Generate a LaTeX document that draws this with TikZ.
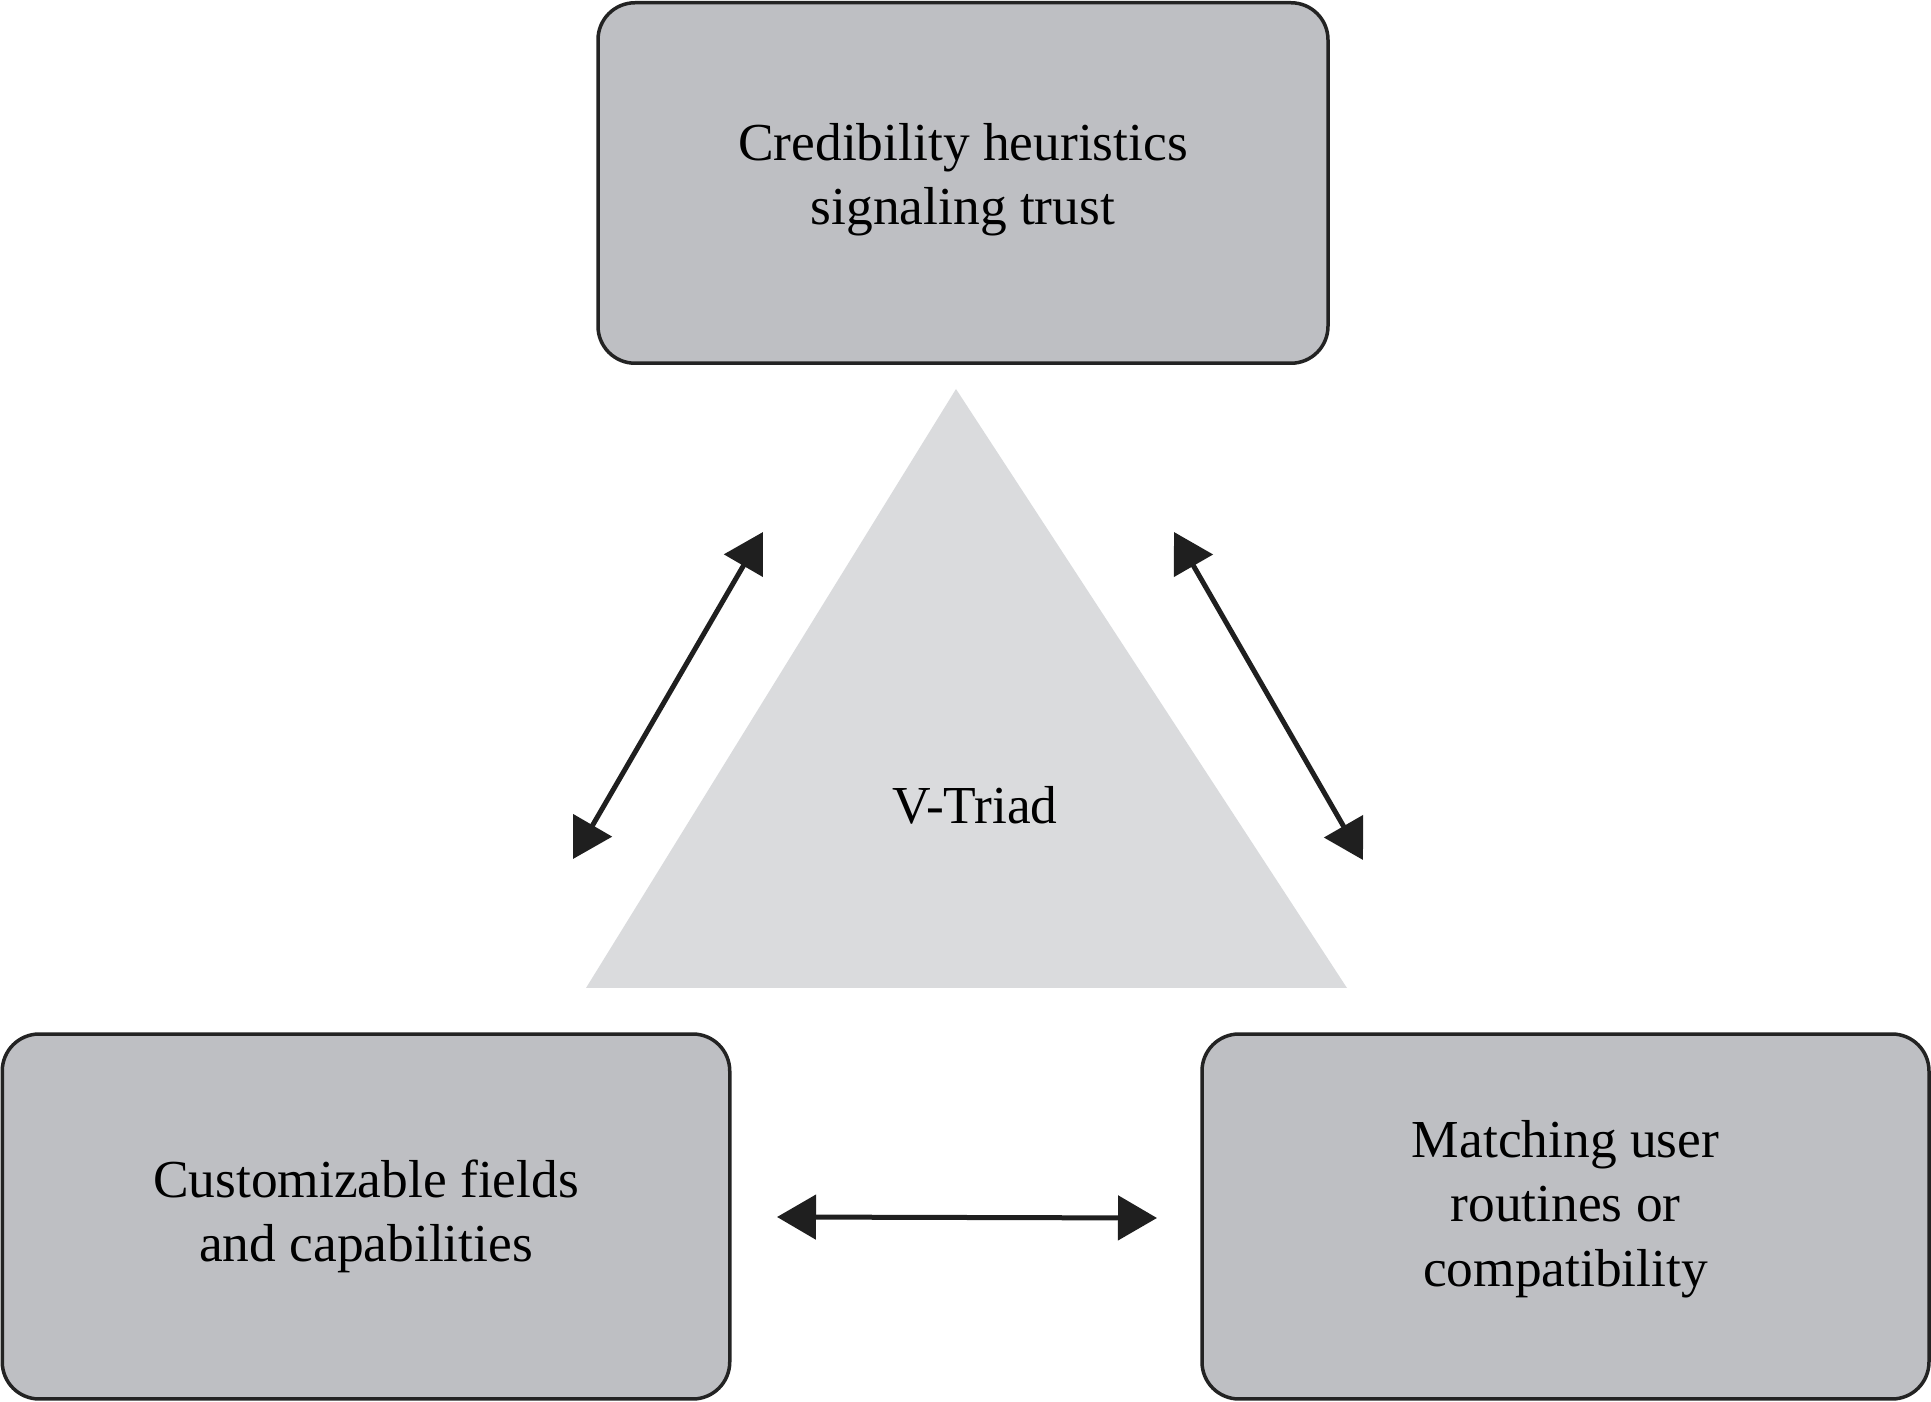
\documentclass[tikz,border=0pt]{standalone}
\usepackage{fontspec}
\setmainfont{Liberation Serif}
\usetikzlibrary{arrows.meta}
\definecolor{boxfill}{RGB}{190,191,195}
\definecolor{trifill}{RGB}{218,219,221}
\definecolor{edgecol}{RGB}{35,35,35}
\begin{document}
\begin{tikzpicture}[x=0.1mm,y=-0.1mm,
  box/.style={draw=edgecol, line width=0.35mm, fill=boxfill, rounded corners=3.7mm,
    align=center, inner sep=0pt, font=\fontsize{15.2}{18.3}\selectfont},
  link/.style={line width=0.5mm, draw=black!88,
    {Triangle[length=3.9mm,width=4.4mm]}-{Triangle[length=3.9mm,width=4.4mm]}}]
\useasboundingbox (0,0) rectangle (1931,1402);
% triangle
\fill[trifill] (956,389) -- (1347,988) -- (586,988) -- cycle;
\node[font=\fontsize{15.2}{18.3}\selectfont] (triad) at (975,805) {V-Triad};
% boxes
\node[box, minimum width=73mm, minimum height=36.05mm] (top) at (963,183) {};
\node[font=\fontsize{15.2}{18.3}\selectfont, align=center] (toptext) at (963,180)
  {Credibility heuristics\\signaling trust};
\node[box, minimum width=72.75mm, minimum height=36.5mm] (left) at (366,1216.5)
  {Customizable fields\\and capabilities};
\node[box, minimum width=72.7mm, minimum height=36.5mm] (right) at (1565.5,1216.5) {};
\node[font=\fontsize{15.2}{18.3}\selectfont, align=center] (righttext) at (1565.5,1209)
  {Matching user\\routines or\\compatibility};
% arrow end points
\coordinate (la) at (763,532);
\coordinate (lb) at (573,859);
\coordinate (ra) at (1174,532);
\coordinate (rb) at (1363,860);
\coordinate (ba) at (777,1217);
\coordinate (bb) at (1157,1218);
\draw[link] (la) -- (lb);
\draw[link] (ra) -- (rb);
\draw[link] (ba) -- (bb);
\end{tikzpicture}
\end{document}
